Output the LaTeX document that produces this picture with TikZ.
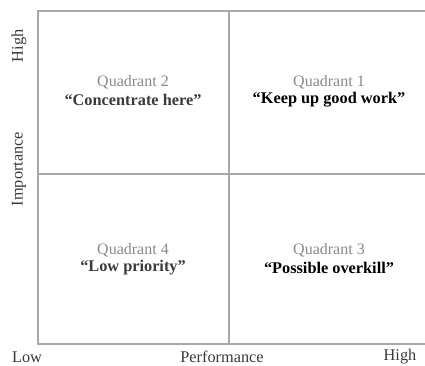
\documentclass[tikz,border=0pt]{standalone}
\usepackage{fontspec}
\setmainfont{Liberation Serif}
\definecolor{gridline}{HTML}{A8A8A8}
\definecolor{qgray}{HTML}{8A8A8A}
\definecolor{lgray}{HTML}{3A3A3A}
\begin{document}
\begin{tikzpicture}[x=1pt,y=1pt,
  grid/.style={draw=gridline,line width=1.4pt},
  qtitle/.style={text=qgray,font=\fontsize{16}{19}\selectfont,inner sep=0pt},
  qquote/.style={font=\fontsize{16.3}{19}\selectfont\bfseries,inner sep=0pt},
  axis/.style={text=lgray,font=\fontsize{16.3}{19}\selectfont,inner sep=0pt}]
\useasboundingbox (0,0) rectangle (425,365);
\fill[white] (0,0) rectangle (425,365);
% frame coordinates
\coordinate (tl) at (38,354);
\coordinate (tr) at (425,354);
\coordinate (bl) at (38,21);
\coordinate (br) at (425,21);
\coordinate (ml) at (38,191);
\coordinate (mr) at (425,191);
\coordinate (mt) at (229,354);
\coordinate (mb) at (229,21);
\draw[grid] (tr) -- (tl) -- (bl) -- (br);
\draw[grid] (ml) -- (mr);
\draw[grid] (mt) -- (mb);
% quadrants
\node[qtitle] (q2t) at (133,283) {Quadrant 2};
\node[qquote,text=lgray] (q2q) at (133,265) {“Concentrate here”};
\node[qtitle] (q1t) at (329,283) {Quadrant 1};
\node[qquote] (q1q) at (329,265) {“Keep up good work”};
\node[qtitle] (q4t) at (133,115) {Quadrant 4};
\node[qquote,text=lgray] (q4q) at (133,97) {“Low priority”};
\node[qtitle] (q3t) at (329,115) {Quadrant 3};
\node[qquote] (q3q) at (329,97) {“Possible overkill”};
% axes labels
\node[axis,rotate=90] (yhigh) at (19,319) {High};
\node[axis,rotate=90] (yimp) at (19,196) {Importance};
\node[axis] (xlow) at (27,8) {Low};
\node[axis] (xperf) at (222,8) {Performance};
\node[axis] (xhigh) at (400,8) {High};
\end{tikzpicture}
\end{document}
